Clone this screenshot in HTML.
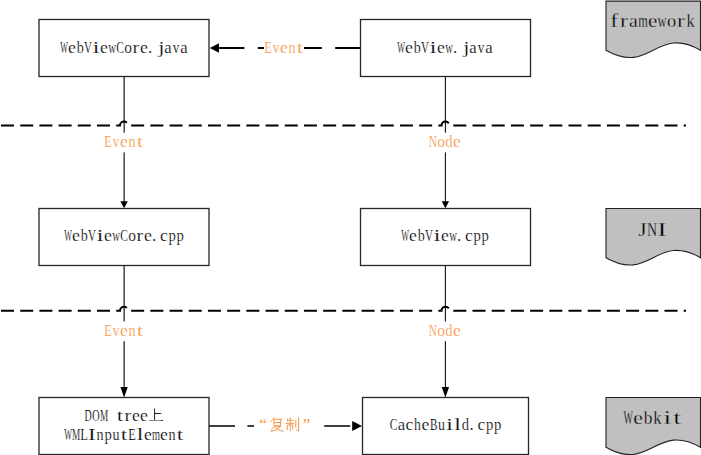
<!DOCTYPE html>
<html><head><meta charset="utf-8"><style>html,body{margin:0;padding:0;background:#fff;width:701px;height:455px;overflow:hidden;position:relative}</style></head>
<body><svg width="701" height="455" viewBox="0 0 701 455" style="position:absolute;left:0;top:0"><style>text{font-family:"Liberation Serif",serif;font-size:16.5px;text-anchor:middle}</style><line x1="124.15" y1="76.5" x2="124.15" y2="202" stroke="#222" stroke-width="1.25"/><path d="M124.1 208.3 L120.39999999999999 201.3 L127.8 201.3 Z" fill="#000"/><line x1="445.4" y1="76.5" x2="445.4" y2="202" stroke="#111" stroke-width="1.1"/><path d="M445.4 208.3 L441.7 201.3 L449.09999999999997 201.3 Z" fill="#000"/><line x1="124.15" y1="265.5" x2="124.15" y2="387" stroke="#222" stroke-width="1.25"/><path d="M124.1 397.6 L120.39999999999999 386.90000000000003 L127.8 386.90000000000003 Z" fill="#000"/><line x1="445.4" y1="265.5" x2="445.4" y2="387" stroke="#111" stroke-width="1.1"/><path d="M445.4 397.6 L441.7 386.90000000000003 L449.09999999999997 386.90000000000003 Z" fill="#000"/><path d="M1 125.6 L120.0 125.6 A4.0 4.0 0 0 1 128.0 125.6 L441.5 125.6 A4.0 4.0 0 0 1 449.5 125.6 L686 125.6" fill="none" stroke="#000" stroke-width="2" stroke-dasharray="13 6.2"/><path d="M1 310.7 L120.0 310.7 A4.0 4.0 0 0 1 128.0 310.7 L441.5 310.7 A4.0 4.0 0 0 1 449.5 310.7 L686 310.7" fill="none" stroke="#000" stroke-width="2" stroke-dasharray="13 6.2"/><line x1="360.5" y1="48" x2="219" y2="48" stroke="#000" stroke-width="2" stroke-dasharray="25.3 13.4"/><path d="M209.8 48 L219.0 43.2 L219.0 52.8 Z" fill="#000"/><line x1="209" y1="426" x2="351" y2="426" stroke="#000" stroke-width="1.5" stroke-dasharray="26 12.4"/><path d="M362 426 L352.2 421.0 L352.2 431.0 Z" fill="#000"/><rect x="39" y="19.5" width="170" height="57.0" fill="#fff" stroke="#262626" stroke-width="1.3"/><rect x="360.5" y="19.5" width="170.0" height="57.0" fill="#fff" stroke="#262626" stroke-width="1.3"/><rect x="39" y="208.5" width="170" height="57.0" fill="#fff" stroke="#262626" stroke-width="1.3"/><rect x="360.5" y="208.5" width="170.0" height="57.0" fill="#fff" stroke="#262626" stroke-width="1.3"/><rect x="39" y="397.5" width="170" height="57.0" fill="#fff" stroke="#262626" stroke-width="1.3"/><rect x="362.5" y="397.5" width="166.0" height="57.0" fill="#fff" stroke="#262626" stroke-width="1.3"/><rect x="264" y="38" width="40" height="20" fill="#fff"/><text transform="translate(268.13 52.50) scale(0.725 1.000)" fill="#F79646" style="font-size:17px" stroke="#fff" stroke-width="0.2">E</text><text transform="translate(276.00 52.50) scale(0.772 1.000)" fill="#F79646" style="font-size:17px" stroke="#fff" stroke-width="0.2">v</text><text transform="translate(283.96 52.50) scale(1.043 1.000)" fill="#F79646" style="font-size:17px" stroke="#fff" stroke-width="0.2">e</text><text transform="translate(291.94 52.50) scale(0.835 1.000)" fill="#F79646" style="font-size:17px" stroke="#fff" stroke-width="0.2">n</text><text transform="translate(299.95 52.50) scale(1.364 1.000)" fill="#F79646" style="font-size:17px" stroke="#fff" stroke-width="0.2">t</text><rect x="100" y="132.7" width="48" height="19.700000000000017" fill="#fff"/><text transform="translate(108.13 147.20) scale(0.725 1.000)" fill="#F79646" style="font-size:17px" stroke="#fff" stroke-width="0.2">E</text><text transform="translate(116.00 147.20) scale(0.772 1.000)" fill="#F79646" style="font-size:17px" stroke="#fff" stroke-width="0.2">v</text><text transform="translate(123.96 147.20) scale(1.043 1.000)" fill="#F79646" style="font-size:17px" stroke="#fff" stroke-width="0.2">e</text><text transform="translate(131.94 147.20) scale(0.835 1.000)" fill="#F79646" style="font-size:17px" stroke="#fff" stroke-width="0.2">n</text><text transform="translate(139.95 147.20) scale(1.364 1.000)" fill="#F79646" style="font-size:17px" stroke="#fff" stroke-width="0.2">t</text><rect x="425" y="132.7" width="41" height="19.700000000000017" fill="#fff"/><text transform="translate(432.97 147.20) scale(0.674 1.000)" fill="#F79646" style="font-size:17px" stroke="#fff" stroke-width="0.2">N</text><text transform="translate(441.00 147.20) scale(0.910 1.000)" fill="#F79646" style="font-size:17px" stroke="#fff" stroke-width="0.2">o</text><text transform="translate(448.83 147.20) scale(0.854 1.000)" fill="#F79646" style="font-size:17px" stroke="#fff" stroke-width="0.2">d</text><text transform="translate(456.96 147.20) scale(1.043 1.000)" fill="#F79646" style="font-size:17px" stroke="#fff" stroke-width="0.2">e</text><rect x="100" y="321.4" width="48" height="19.80000000000001" fill="#fff"/><text transform="translate(108.13 336.10) scale(0.725 1.000)" fill="#F79646" style="font-size:17px" stroke="#fff" stroke-width="0.2">E</text><text transform="translate(116.00 336.10) scale(0.772 1.000)" fill="#F79646" style="font-size:17px" stroke="#fff" stroke-width="0.2">v</text><text transform="translate(123.96 336.10) scale(1.043 1.000)" fill="#F79646" style="font-size:17px" stroke="#fff" stroke-width="0.2">e</text><text transform="translate(131.94 336.10) scale(0.835 1.000)" fill="#F79646" style="font-size:17px" stroke="#fff" stroke-width="0.2">n</text><text transform="translate(139.95 336.10) scale(1.364 1.000)" fill="#F79646" style="font-size:17px" stroke="#fff" stroke-width="0.2">t</text><rect x="425" y="321.4" width="41" height="19.80000000000001" fill="#fff"/><text transform="translate(432.97 336.10) scale(0.674 1.000)" fill="#F79646" style="font-size:17px" stroke="#fff" stroke-width="0.2">N</text><text transform="translate(441.00 336.10) scale(0.910 1.000)" fill="#F79646" style="font-size:17px" stroke="#fff" stroke-width="0.2">o</text><text transform="translate(448.83 336.10) scale(0.854 1.000)" fill="#F79646" style="font-size:17px" stroke="#fff" stroke-width="0.2">d</text><text transform="translate(456.96 336.10) scale(1.043 1.000)" fill="#F79646" style="font-size:17px" stroke="#fff" stroke-width="0.2">e</text><text transform="translate(64.00 52.50) scale(0.480 1.000)" fill="#000" style="font-size:17px" stroke="#fff" stroke-width="0.22">W</text><text transform="translate(71.96 52.50) scale(1.043 1.000)" fill="#000" style="font-size:17px" stroke="#fff" stroke-width="0.22">e</text><text transform="translate(80.27 52.50) scale(0.835 1.000)" fill="#000" style="font-size:17px" stroke="#fff" stroke-width="0.22">b</text><text transform="translate(88.00 52.50) scale(0.646 1.000)" fill="#000" style="font-size:17px" stroke="#fff" stroke-width="0.22">V</text><text transform="translate(95.98 52.50) scale(1.504 1.000)" fill="#000" style="font-size:17px" stroke="#fff" stroke-width="0.22">i</text><text transform="translate(103.96 52.50) scale(1.043 1.000)" fill="#000" style="font-size:17px" stroke="#fff" stroke-width="0.22">e</text><text transform="translate(112.02 52.50) scale(0.630 1.000)" fill="#000" style="font-size:17px" stroke="#fff" stroke-width="0.22">w</text><text transform="translate(120.08 52.50) scale(0.676 1.000)" fill="#000" style="font-size:17px" stroke="#fff" stroke-width="0.22">C</text><text transform="translate(128.00 52.50) scale(0.910 1.000)" fill="#000" style="font-size:17px" stroke="#fff" stroke-width="0.22">o</text><text transform="translate(135.89 52.50) scale(1.176 1.000)" fill="#000" style="font-size:17px" stroke="#fff" stroke-width="0.22">r</text><text transform="translate(143.96 52.50) scale(1.043 1.000)" fill="#000" style="font-size:17px" stroke="#fff" stroke-width="0.22">e</text><text transform="translate(150.20 52.50) scale(1.000 1.000)" fill="#000" style="font-size:17px" stroke="#fff" stroke-width="0.22">.</text><text transform="translate(161.29 52.50) scale(1.322 1.000)" fill="#000" style="font-size:17px" stroke="#fff" stroke-width="0.22">j</text><text transform="translate(167.82 52.50) scale(0.977 1.000)" fill="#000" style="font-size:17px" stroke="#fff" stroke-width="0.22">a</text><text transform="translate(176.00 52.50) scale(0.772 1.000)" fill="#000" style="font-size:17px" stroke="#fff" stroke-width="0.22">v</text><text transform="translate(183.82 52.50) scale(0.977 1.000)" fill="#000" style="font-size:17px" stroke="#fff" stroke-width="0.22">a</text><text transform="translate(401.00 52.50) scale(0.480 1.000)" fill="#000" style="font-size:17px" stroke="#fff" stroke-width="0.22">W</text><text transform="translate(408.96 52.50) scale(1.043 1.000)" fill="#000" style="font-size:17px" stroke="#fff" stroke-width="0.22">e</text><text transform="translate(417.27 52.50) scale(0.835 1.000)" fill="#000" style="font-size:17px" stroke="#fff" stroke-width="0.22">b</text><text transform="translate(425.00 52.50) scale(0.646 1.000)" fill="#000" style="font-size:17px" stroke="#fff" stroke-width="0.22">V</text><text transform="translate(432.98 52.50) scale(1.504 1.000)" fill="#000" style="font-size:17px" stroke="#fff" stroke-width="0.22">i</text><text transform="translate(440.96 52.50) scale(1.043 1.000)" fill="#000" style="font-size:17px" stroke="#fff" stroke-width="0.22">e</text><text transform="translate(449.02 52.50) scale(0.630 1.000)" fill="#000" style="font-size:17px" stroke="#fff" stroke-width="0.22">w</text><text transform="translate(455.20 52.50) scale(1.000 1.000)" fill="#000" style="font-size:17px" stroke="#fff" stroke-width="0.22">.</text><text transform="translate(466.29 52.50) scale(1.322 1.000)" fill="#000" style="font-size:17px" stroke="#fff" stroke-width="0.22">j</text><text transform="translate(472.82 52.50) scale(0.977 1.000)" fill="#000" style="font-size:17px" stroke="#fff" stroke-width="0.22">a</text><text transform="translate(481.00 52.50) scale(0.772 1.000)" fill="#000" style="font-size:17px" stroke="#fff" stroke-width="0.22">v</text><text transform="translate(488.82 52.50) scale(0.977 1.000)" fill="#000" style="font-size:17px" stroke="#fff" stroke-width="0.22">a</text><text transform="translate(68.00 241.40) scale(0.480 1.000)" fill="#000" style="font-size:17px" stroke="#fff" stroke-width="0.22">W</text><text transform="translate(75.96 241.40) scale(1.043 1.000)" fill="#000" style="font-size:17px" stroke="#fff" stroke-width="0.22">e</text><text transform="translate(84.27 241.40) scale(0.835 1.000)" fill="#000" style="font-size:17px" stroke="#fff" stroke-width="0.22">b</text><text transform="translate(92.00 241.40) scale(0.646 1.000)" fill="#000" style="font-size:17px" stroke="#fff" stroke-width="0.22">V</text><text transform="translate(99.98 241.40) scale(1.504 1.000)" fill="#000" style="font-size:17px" stroke="#fff" stroke-width="0.22">i</text><text transform="translate(107.96 241.40) scale(1.043 1.000)" fill="#000" style="font-size:17px" stroke="#fff" stroke-width="0.22">e</text><text transform="translate(116.02 241.40) scale(0.630 1.000)" fill="#000" style="font-size:17px" stroke="#fff" stroke-width="0.22">w</text><text transform="translate(124.08 241.40) scale(0.676 1.000)" fill="#000" style="font-size:17px" stroke="#fff" stroke-width="0.22">C</text><text transform="translate(132.00 241.40) scale(0.910 1.000)" fill="#000" style="font-size:17px" stroke="#fff" stroke-width="0.22">o</text><text transform="translate(139.89 241.40) scale(1.176 1.000)" fill="#000" style="font-size:17px" stroke="#fff" stroke-width="0.22">r</text><text transform="translate(147.96 241.40) scale(1.043 1.000)" fill="#000" style="font-size:17px" stroke="#fff" stroke-width="0.22">e</text><text transform="translate(154.20 241.40) scale(1.000 1.000)" fill="#000" style="font-size:17px" stroke="#fff" stroke-width="0.22">.</text><text transform="translate(163.94 241.40) scale(1.029 1.000)" fill="#000" style="font-size:17px" stroke="#fff" stroke-width="0.22">c</text><text transform="translate(172.17 241.40) scale(0.867 1.000)" fill="#000" style="font-size:17px" stroke="#fff" stroke-width="0.22">p</text><text transform="translate(180.17 241.40) scale(0.867 1.000)" fill="#000" style="font-size:17px" stroke="#fff" stroke-width="0.22">p</text><text transform="translate(405.00 241.40) scale(0.480 1.000)" fill="#000" style="font-size:17px" stroke="#fff" stroke-width="0.22">W</text><text transform="translate(412.96 241.40) scale(1.043 1.000)" fill="#000" style="font-size:17px" stroke="#fff" stroke-width="0.22">e</text><text transform="translate(421.27 241.40) scale(0.835 1.000)" fill="#000" style="font-size:17px" stroke="#fff" stroke-width="0.22">b</text><text transform="translate(429.00 241.40) scale(0.646 1.000)" fill="#000" style="font-size:17px" stroke="#fff" stroke-width="0.22">V</text><text transform="translate(436.98 241.40) scale(1.504 1.000)" fill="#000" style="font-size:17px" stroke="#fff" stroke-width="0.22">i</text><text transform="translate(444.96 241.40) scale(1.043 1.000)" fill="#000" style="font-size:17px" stroke="#fff" stroke-width="0.22">e</text><text transform="translate(453.02 241.40) scale(0.630 1.000)" fill="#000" style="font-size:17px" stroke="#fff" stroke-width="0.22">w</text><text transform="translate(459.20 241.40) scale(1.000 1.000)" fill="#000" style="font-size:17px" stroke="#fff" stroke-width="0.22">.</text><text transform="translate(468.94 241.40) scale(1.029 1.000)" fill="#000" style="font-size:17px" stroke="#fff" stroke-width="0.22">c</text><text transform="translate(477.17 241.40) scale(0.867 1.000)" fill="#000" style="font-size:17px" stroke="#fff" stroke-width="0.22">p</text><text transform="translate(485.17 241.40) scale(0.867 1.000)" fill="#000" style="font-size:17px" stroke="#fff" stroke-width="0.22">p</text><text transform="translate(88.06 421.10) scale(0.591 1.000)" fill="#000" style="font-size:17px" stroke="#fff" stroke-width="0.22">D</text><text transform="translate(96.00 421.10) scale(0.603 1.000)" fill="#000" style="font-size:17px" stroke="#fff" stroke-width="0.22">O</text><text transform="translate(104.00 421.10) scale(0.544 1.000)" fill="#000" style="font-size:17px" stroke="#fff" stroke-width="0.22">M</text><text transform="translate(119.95 421.10) scale(1.364 1.000)" fill="#000" style="font-size:17px" stroke="#fff" stroke-width="0.22">t</text><text transform="translate(127.89 421.10) scale(1.176 1.000)" fill="#000" style="font-size:17px" stroke="#fff" stroke-width="0.22">r</text><text transform="translate(135.96 421.10) scale(1.043 1.000)" fill="#000" style="font-size:17px" stroke="#fff" stroke-width="0.22">e</text><text transform="translate(143.96 421.10) scale(1.043 1.000)" fill="#000" style="font-size:17px" stroke="#fff" stroke-width="0.22">e</text><text transform="translate(68.00 440.40) scale(0.480 1.000)" fill="#000" style="font-size:17px" stroke="#fff" stroke-width="0.22">W</text><text transform="translate(76.00 440.40) scale(0.544 1.000)" fill="#000" style="font-size:17px" stroke="#fff" stroke-width="0.22">M</text><text transform="translate(84.20 440.40) scale(0.739 1.000)" fill="#000" style="font-size:17px" stroke="#fff" stroke-width="0.22">L</text><text transform="translate(91.99 440.40) scale(1.367 1.000)" fill="#000" style="font-size:17px" stroke="#fff" stroke-width="0.22">I</text><text transform="translate(99.94 440.40) scale(0.835 1.000)" fill="#000" style="font-size:17px" stroke="#fff" stroke-width="0.22">n</text><text transform="translate(108.17 440.40) scale(0.867 1.000)" fill="#000" style="font-size:17px" stroke="#fff" stroke-width="0.22">p</text><text transform="translate(116.03 440.40) scale(0.822 1.000)" fill="#000" style="font-size:17px" stroke="#fff" stroke-width="0.22">u</text><text transform="translate(123.95 440.40) scale(1.364 1.000)" fill="#000" style="font-size:17px" stroke="#fff" stroke-width="0.22">t</text><text transform="translate(132.13 440.40) scale(0.725 1.000)" fill="#000" style="font-size:17px" stroke="#fff" stroke-width="0.22">E</text><text transform="translate(140.00 440.40) scale(1.504 1.000)" fill="#000" style="font-size:17px" stroke="#fff" stroke-width="0.22">l</text><text transform="translate(147.96 440.40) scale(1.043 1.000)" fill="#000" style="font-size:17px" stroke="#fff" stroke-width="0.22">e</text><text transform="translate(155.97 440.40) scale(0.609 1.000)" fill="#000" style="font-size:17px" stroke="#fff" stroke-width="0.22">m</text><text transform="translate(163.96 440.40) scale(1.043 1.000)" fill="#000" style="font-size:17px" stroke="#fff" stroke-width="0.22">e</text><text transform="translate(171.94 440.40) scale(0.835 1.000)" fill="#000" style="font-size:17px" stroke="#fff" stroke-width="0.22">n</text><text transform="translate(179.95 440.40) scale(1.364 1.000)" fill="#000" style="font-size:17px" stroke="#fff" stroke-width="0.22">t</text><text transform="translate(393.58 430.40) scale(0.676 1.000)" fill="#000" style="font-size:17px" stroke="#fff" stroke-width="0.22">C</text><text transform="translate(401.32 430.40) scale(0.977 1.000)" fill="#000" style="font-size:17px" stroke="#fff" stroke-width="0.22">a</text><text transform="translate(409.44 430.40) scale(1.029 1.000)" fill="#000" style="font-size:17px" stroke="#fff" stroke-width="0.22">c</text><text transform="translate(417.52 430.40) scale(0.809 1.000)" fill="#000" style="font-size:17px" stroke="#fff" stroke-width="0.22">h</text><text transform="translate(425.46 430.40) scale(1.043 1.000)" fill="#000" style="font-size:17px" stroke="#fff" stroke-width="0.22">e</text><text transform="translate(433.61 430.40) scale(0.655 1.000)" fill="#000" style="font-size:17px" stroke="#fff" stroke-width="0.22">B</text><text transform="translate(441.53 430.40) scale(0.822 1.000)" fill="#000" style="font-size:17px" stroke="#fff" stroke-width="0.22">u</text><text transform="translate(449.48 430.40) scale(1.504 1.000)" fill="#000" style="font-size:17px" stroke="#fff" stroke-width="0.22">i</text><text transform="translate(457.50 430.40) scale(1.504 1.000)" fill="#000" style="font-size:17px" stroke="#fff" stroke-width="0.22">l</text><text transform="translate(465.33 430.40) scale(0.854 1.000)" fill="#000" style="font-size:17px" stroke="#fff" stroke-width="0.22">d</text><text transform="translate(471.70 430.40) scale(1.000 1.000)" fill="#000" style="font-size:17px" stroke="#fff" stroke-width="0.22">.</text><text transform="translate(481.44 430.40) scale(1.029 1.000)" fill="#000" style="font-size:17px" stroke="#fff" stroke-width="0.22">c</text><text transform="translate(489.67 430.40) scale(0.867 1.000)" fill="#000" style="font-size:17px" stroke="#fff" stroke-width="0.22">p</text><text transform="translate(497.67 430.40) scale(0.867 1.000)" fill="#000" style="font-size:17px" stroke="#fff" stroke-width="0.22">p</text><path d="M606.0 1.1 L700.5 1.1 L700.5 50.2 C656.0 24.700000000000003 650.5 75.7 606.0 50.2 Z" fill="#C0C0C0" stroke="#222" stroke-width="1.1"/><path d="M606.0 208.5 L700.5 208.5 L700.5 257.7 C656.0 232.2 650.5 283.2 606.0 257.7 Z" fill="#C0C0C0" stroke="#222" stroke-width="1.1"/><path d="M606.0 397.5 L700.5 397.5 L700.5 447.3 C656.0 421.8 650.5 472.8 606.0 447.3 Z" fill="#C0C0C0" stroke="#222" stroke-width="1.1"/><g style="font-size:18.5px"><text transform="translate(614.23 27.30) scale(1.291 1.000)" fill="#000" style="font-size:18.5px" stroke="#C0C0C0" stroke-width="0.28">f</text><text transform="translate(623.97 27.30) scale(1.283 1.000)" fill="#000" style="font-size:18.5px" stroke="#C0C0C0" stroke-width="0.28">r</text><text transform="translate(633.39 27.30) scale(1.066 1.000)" fill="#000" style="font-size:18.5px" stroke="#C0C0C0" stroke-width="0.28">a</text><text transform="translate(643.07 27.30) scale(0.665 1.000)" fill="#000" style="font-size:18.5px" stroke="#C0C0C0" stroke-width="0.28">m</text><text transform="translate(652.55 27.30) scale(1.138 1.000)" fill="#000" style="font-size:18.5px" stroke="#C0C0C0" stroke-width="0.28">e</text><text transform="translate(662.12 27.30) scale(0.688 1.000)" fill="#000" style="font-size:18.5px" stroke="#C0C0C0" stroke-width="0.28">w</text><text transform="translate(671.60 27.30) scale(0.994 1.000)" fill="#000" style="font-size:18.5px" stroke="#C0C0C0" stroke-width="0.28">o</text><text transform="translate(680.97 27.30) scale(1.283 1.000)" fill="#000" style="font-size:18.5px" stroke="#C0C0C0" stroke-width="0.28">r</text><text transform="translate(690.45 27.30) scale(0.876 1.000)" fill="#000" style="font-size:18.5px" stroke="#C0C0C0" stroke-width="0.28">k</text></g><g style="font-size:18.5px"><text transform="translate(642.30 235.80) scale(1.160 1.000)" fill="#000" style="font-size:18.5px" stroke="#C0C0C0" stroke-width="0.28">J</text><text transform="translate(652.06 235.80) scale(0.759 1.000)" fill="#000" style="font-size:18.5px" stroke="#C0C0C0" stroke-width="0.28">N</text><text transform="translate(661.89 235.80) scale(1.538 1.000)" fill="#000" style="font-size:18.5px" stroke="#C0C0C0" stroke-width="0.28">I</text></g><g style="font-size:18.5px"><text transform="translate(628.20 423.90) scale(0.540 1.000)" fill="#000" style="font-size:18.5px" stroke="#C0C0C0" stroke-width="0.28">W</text><text transform="translate(637.95 423.90) scale(1.174 1.000)" fill="#000" style="font-size:18.5px" stroke="#C0C0C0" stroke-width="0.28">e</text><text transform="translate(648.13 423.90) scale(0.940 1.000)" fill="#000" style="font-size:18.5px" stroke="#C0C0C0" stroke-width="0.28">b</text><text transform="translate(657.44 423.90) scale(0.903 1.000)" fill="#000" style="font-size:18.5px" stroke="#C0C0C0" stroke-width="0.28">k</text><text transform="translate(667.37 423.90) scale(1.600 1.000)" fill="#000" style="font-size:18.5px" stroke="#C0C0C0" stroke-width="0.28">i</text><text transform="translate(677.14 423.90) scale(1.535 1.000)" fill="#000" style="font-size:18.5px" stroke="#C0C0C0" stroke-width="0.28">t</text></g><g transform="translate(148 408)" fill="none" stroke="#222" stroke-width="1"><path d="M6.6 0.5 V12.9 M6.6 5.5 H12.5"/><path d="M1 12.5 H14" stroke="#888"/><path d="M12.3 5.5 H13.3 M13.3 12.5 H15" stroke-width="1.2"/></g><rect x="254" y="414" width="64" height="22" fill="#fff"/><text x="263" y="430" style="font-size:17px" fill="#F79646">“</text><g transform="translate(268 415)" fill="none" stroke="#F79646" stroke-width="1"><path d="M6.5 2.2 L2.3 7.3 M6 4.3 H14.5 M6 4.3 V10.8 M12.6 4.3 V10.8 M6 10.8 H12.6 M6.2 7.5 H12.4 M7.5 10.8 L3 15 M7.2 11.6 H12.6 L8.8 14.6 L2.8 16.5 M7.6 13 Q10.5 15.6 15.6 16.4"/></g><g transform="translate(284 415)" fill="none" stroke="#F79646" stroke-width="1"><path d="M3.6 3.6 V6.5 M3 5.3 H9.6 M1.8 8.3 H10.2 M6.3 2.4 V16.2 M3.3 10 V15 M3.3 10 H8.8 V14.6 M11.8 5 V12.8 M14.6 2.4 V16 L12.4 15"/></g><text x="306.5" y="430" style="font-size:17px" fill="#F79646">”</text></svg></body></html>
